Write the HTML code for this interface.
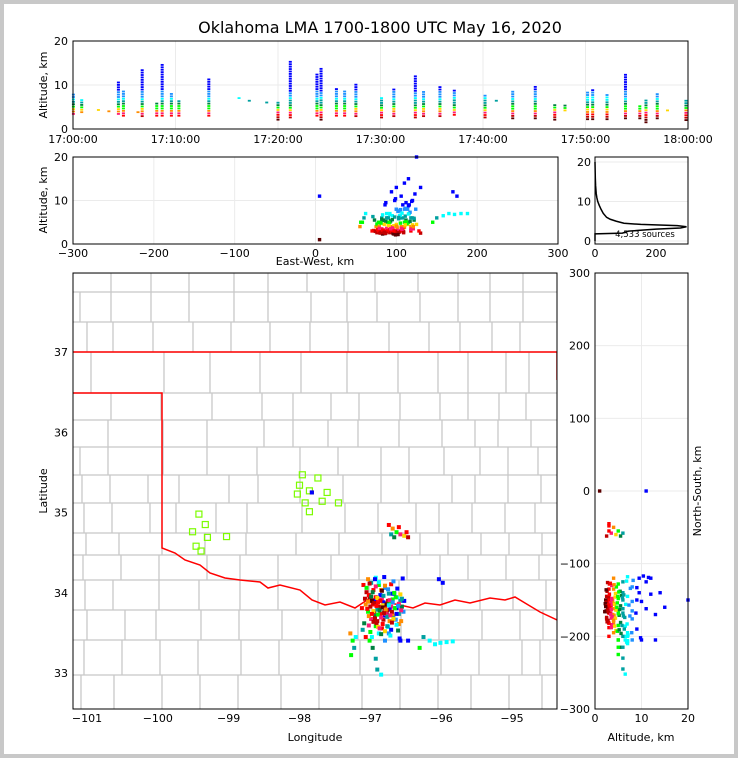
<!DOCTYPE html>
<html><head><meta charset="utf-8"><style>
body{margin:0;background:#c8c8c8;}
svg{display:block;font-family:"DejaVu Sans","Liberation Sans",sans-serif;}
</style></head><body>
<svg id="fig" width="738" height="758" viewBox="0 0 738 758" xmlns="http://www.w3.org/2000/svg">
<rect x="4" y="4" width="730" height="750" fill="#fff"/>
<text x="380" y="33" font-size="16" text-anchor="middle">Oklahoma LMA 1700-1800 UTC May 16, 2020</text>
<g id="top"></g>
<g id="mid"></g>
<g id="hist"></g>
<g id="map"></g>
<g id="ns"></g>
</svg>
<script>
// ---- data ----
const colMinutes=[0.04,0.85,2.48,3.5,4.43,4.92,6.34,6.75,8.17,8.7,9.6,10.33,13.25,16.2,17.2,18.9,20.0,21.2,23.8,24.2,25.7,26.5,27.6,30.1,31.3,33.4,34.2,35.8,37.2,40.2,41.3,42.9,45.1,47.0,48.0,50.2,50.7,52.1,53.9,55.3,55.9,57.0,58.0,59.8];
const colAltLo=[3.4,3.8,4.3,4.0,3.4,3.0,3.8,2.9,3.0,3.0,3.0,3.0,3.0,7.0,6.4,6.0,2.1,2.6,3.0,2.1,3.0,3.0,2.9,2.6,2.9,2.6,2.9,2.9,3.2,2.6,6.4,2.4,2.4,2.1,4.2,2.2,2.2,2.2,2.4,2.4,1.5,2.4,4.2,2.0];
const colAltHi=[7.9,6.8,4.3,4.0,10.9,9.0,3.8,13.7,5.9,15.0,8.3,6.8,11.7,7.4,6.4,6.0,6.2,15.5,12.8,14.0,9.5,8.9,10.4,7.1,9.0,12.3,8.5,9.6,8.9,7.6,6.4,8.8,9.6,5.9,5.8,8.5,8.9,7.9,12.6,5.3,6.9,7.9,4.2,6.9];
// sources: east-west km, north-south km, altitude km
const srcEW=[78,82,88,92,85,95,100,105,80,88,96,104,110,116,120,75,84,92,100,108,114,122,78,86,94,102,110,118,82,90,98,106,114,88,96,104,92,100,86,98,106,112,94,90,102,76,70,124,118,108,80,84,88,90,95,75,100,120,130,105,110,115,120,125,130,108,118,112,128,55,58,60,56,62,150,158,165,172,180,188,145,170,175,5,5,125,110,100,115,83,91,97,103,87,93,99,105,79,111,89,101,
72,76,80,84,88,92,96,100,104,108,112,116,120,
74,78,82,86,90,94,98,102,106,110,114,118,122,
77,81,85,89,93,97,101,105,109,113,117,121,
79,83,87,91,95,99,103,107,111,115,
73,79,85,91,97,103,109,115,121,
71,81,93,105,117,
87,99,111,123,
83,95,107,119];
const srcNS=[-120,-125,-118,-128,-135,-135,-132,-140,-145,-145,-148,-150,-148,-145,-150,-155,-155,-158,-160,-158,-160,-158,-165,-165,-168,-166,-170,-168,-175,-178,-176,-178,-176,-185,-188,-186,-195,-192,-150,-152,-162,-140,-142,-162,-172,-138,-160,-165,-182,-190,-205,-215,-230,-245,-252,-200,-205,-205,-205,-45,-50,-55,-58,-60,-62,-58,-48,-62,-55,-195,-205,-215,-225,-200,-200,-205,-210,-208,-207,-206,-215,-120,-125,0,0,-150,-140,-170,-160,-150,-152,-156,-163,-171,-148,-166,-154,-142,-174,-181,-168,
-128,-132,-126,-138,-130,-124,-136,-129,-134,-127,-139,-133,-141,
-147,-151,-144,-153,-146,-150,-143,-155,-149,-152,-145,-154,-147,
-161,-158,-164,-157,-163,-159,-162,-156,-165,-160,-157,-163,
-171,-168,-174,-169,-173,-167,-172,-170,-175,-168,
-181,-184,-179,-186,-182,-185,-180,-183,-178,
-190,-193,-188,-195,-191,
-120,-117,-123,-119,
-200,-196,-198,-202];
const srcAlt=[4,6,7,5,3,4,8,6,2.5,3,3.5,2.8,5,7,6,4,3.2,2.6,3,3.5,4.5,5.5,5,2.4,3,2.2,3.8,6,3.5,2.8,2.5,4,8,5,3,6.5,7,4.5,9,10,11,9.5,12,6,7.5,2.6,3,8,4,9,5,5.5,6,6,6.5,3,8,10,13,3,4,5,3.5,4.5,2.5,6,3,5.5,3,4,5,6,5,7,6,6.5,7,6.8,7,7,5,12,11,1,11,20,14,13,15,2.3,3.3,4.2,2.7,5.2,3.7,2.1,4.8,3.1,6.4,2.9,3.4,
3.1,4.6,2.7,5.4,3.6,6.8,2.4,4.1,7.6,3.3,5.1,9,4.4,
2.9,3.8,5.7,2.5,4.3,3.1,6.2,2.2,3.6,8,4.9,3.4,5.9,
3.3,2.6,4.5,3.0,5.3,2.3,3.9,6.6,2.8,4.7,7.3,3.5,
4.1,3.2,2.5,5.0,3.7,2.9,6.1,3.4,4.4,8.8,
5.5,3.6,2.7,4.2,3.0,5.8,2.6,6.9,4.0,
6.3,4.8,3.5,7.9,5.2,
9.5,10.4,8.2,11.5,
6.7,5.6,7.1,9.8];
const histAlt=[0,1.8,2,2.5,3,3.3,3.6,3.9,4.2,4.5,5,5.5,6,7,8,9,10,11,12,13,14,16,20];
const histCount=[0,0,90,110,200,280,300,270,150,95,70,50,38,27,20,14,9,6,4,3,2,1,0];
const timeTicks=["17:00:00","17:10:00","17:20:00","17:30:00","17:40:00","17:50:00","18:00:00"];
const lonTicks=[-101,-100,-99,-98,-97,-96,-95];
const latTicks=[37,36,35,34,33];
const stationLon=[-97.96,-97.74,-98.00,-97.86,-98.03,-97.61,-97.92,-97.68,-97.45,-97.86,-99.42,-99.33,-99.51,-99.30,-99.03,-99.46,-99.39];
const stationLat=[35.47,35.43,35.34,35.27,35.23,35.25,35.12,35.14,35.12,35.01,34.98,34.85,34.76,34.69,34.70,34.58,34.52];

// ---- helpers ----
const NS_='http://www.w3.org/2000/svg';
function mk(parent,tag,attrs){const e=document.createElementNS(NS_,tag);for(const k in attrs)e.setAttribute(k,attrs[k]);parent.appendChild(e);return e;}
function txt(parent,x,y,s,size,anchor,name,rot){const t=mk(parent,'text',{x:x,y:y,'font-size':size,'text-anchor':anchor||'middle'});if(rot)t.setAttribute('transform','rotate(-90 '+x+' '+y+')');t.textContent=s;


return t;}
function altColor(a){if(a<2.5)return '#5a0000';if(a<3)return '#c00000';if(a<3.4)return '#ff0000';if(a<3.8)return '#ff1a75';if(a<4.2)return '#ff8c00';if(a<4.6)return '#ffd700';if(a<5.2)return '#00ff00';if(a<5.8)return '#008040';if(a<6.5)return '#00a0a0';if(a<7.2)return '#00ffff';if(a<8.5)return '#1e90ff';return '#0000ff';}
function lin(d0,d1,r0,r1){return v=>r0+(v-d0)/(d1-d0)*(r1-r0);}
const G='#ebebeb';

// ---- top panel ----
(function(){const g=document.getElementById('top');const X=lin(0,60,73,688),Y=lin(0,20,129,41);
[10,20,30,40,50].forEach(m=>{const l=mk(g,'line',{x1:X(m),x2:X(m),y1:41,y2:129,stroke:G});

});
const h=mk(g,'line',{x1:73,x2:688,y1:Y(10),y2:Y(10),stroke:G});


colMinutes.forEach((m,i)=>{for(let a=colAltLo[i];a<=colAltHi[i]+0.01;a+=0.55){const r=mk(g,'rect',{x:X(m)-1.5,y:Y(a)-1,width:3,height:1.8,fill:altColor(a)});

}});
const f=mk(g,'rect',{x:73,y:41,width:615,height:88,fill:'none',stroke:'#000'});


[0,10,20].forEach(v=>txt(g,68,Y(v)+4,String(v),11,'end','top-y-tick'));
timeTicks.forEach((s,i)=>txt(g,X(i*10),143,s,11,'middle','time-tick'));
txt(g,47,85,'Altitude, km',11,'middle','top-y-axis-title',true);})();

// ---- middle panel ----
(function(){const g=document.getElementById('mid');const X=lin(-300,300,73,558),Y=lin(0,20,244,157);
[-200,-100,0,100,200].forEach(v=>{const l=mk(g,'line',{x1:X(v),x2:X(v),y1:157,y2:244,stroke:G});

});
const h=mk(g,'line',{x1:73,x2:558,y1:Y(10),y2:Y(10),stroke:G});


srcEW.forEach((e,i)=>{const r=mk(g,'rect',{x:X(e)-1.7,y:Y(srcAlt[i])-1.7,width:3.4,height:3.4,fill:altColor(srcAlt[i])});

});
const f=mk(g,'rect',{x:73,y:157,width:485,height:87,fill:'none',stroke:'#000'});


[0,10,20].forEach(v=>txt(g,68,Y(v)+4,String(v),11,'end','mid-y-tick'));
[-300,-200,-100,0,100,200,300].forEach(v=>txt(g,X(v),257,String(v).replace('-','−'),11,'middle','ew-tick'));
txt(g,315,265,'East-West, km',11,'middle','ew-axis-title');
txt(g,47,200,'Altitude, km',11,'middle','mid-y-axis-title',true);})();

// ---- histogram ----
(function(){const g=document.getElementById('hist');const X=lin(0,200,595,656),Y=lin(0,20,241,162);
[0,10,20].forEach(v=>{const l=mk(g,'line',{x1:595,x2:688,y1:Y(v),y2:Y(v),stroke:G});

});
const p=mk(g,'polyline',{points:histAlt.map((a,i)=>X(histCount[i])+','+Y(a)).join(' '),fill:'none',stroke:'#000','stroke-width':1.5});


const f=mk(g,'rect',{x:595,y:157,width:93,height:87,fill:'none',stroke:'#000'});


[0,10,20].forEach(v=>txt(g,591,Y(v)+4,String(v),11,'end','hist-y-tick'));
[0,200].forEach(v=>txt(g,X(v),257,String(v),11,'middle','hist-x-tick'));
txt(g,645,237,'4,533 sources',8.5,'middle','source-count-label');})();

// ---- map ----
(function(){const g=document.getElementById('map');const X=lin(-101,-95,87,512),Y=lin(37,33,352,673);
const cl=mk(g,'clipPath',{id:'mapclip'});mk(cl,'rect',{x:73,y:273,width:484,height:436});
const cg=mk(g,'g',{'clip-path':'url(#mapclip)'});


const bands=[[273,292,[113,150,190,232,268,309,343,376,416,458,492,522]],[292,322,[80,113,150,190,232,268,313,346,378,418,458,492,522]],[322,352,[85,113,155,192,232,268,310,350,388,430,458,492,522]],[352,393,[92,162,210,262,300,348,396,438,470,505,530]],[393,420,[110,162,210,262,295,330,360,398,440,470,498,527]],[420,447,[110,162,208,262,293,330,357,400,440,475,500,530]],[447,475,[80,110,162,208,255,300,340,380,410,442,480,510,537]],[475,503,[80,110,150,178,230,256,300,345,380,410,450,475,510,540]],[503,533,[85,110,150,178,215,248,300,345,380,415,440,470,505,537]],[533,555,[85,120,160,205,248,295,340,380,420,450,480,510,540]],[555,580,[85,120,160,205,240,280,330,360,405,440,470,505,540]],[580,610,[85,115,158,200,238,278,320,368,400,440,480,515,545]],[610,640,[85,125,158,200,240,280,320,360,400,440,480,520,545]],[640,675,[85,120,160,200,240,280,320,360,400,440,480,520,540]],[675,709,[80,115,160,200,240,280,320,360,400,440,470,510,540]]];
let d='';bands.forEach((b,i)=>{d+='M73 '+b[0]+'H557';b[2].forEach((x,j)=>{const o=((i*7+j*3)%5)-2;d+='M'+(x+o)+' '+b[0]+'V'+b[1];});});
mk(cg,'path',{d:d,stroke:'#c8c8c8','stroke-width':1.3,fill:'none'});
const red='M73 393H162V548L175 553L185 560L200 565L210 573L225 578L240 580L260 582L268 588L280 585L300 590L312 600L325 605L340 602L355 608L370 598L385 602L400 605L413 608L425 603L440 605L455 600L470 603L490 598L505 600L515 597L525 603L540 612L557 620M73 352H557V380';
const rp=mk(cg,'path',{d:red,stroke:'#ff0000','stroke-width':1.5,fill:'none'});


stationLon.forEach((lo,i)=>{const s=mk(cg,'rect',{x:X(lo)-3,y:Y(stationLat[i])-3,width:6,height:6,fill:'none',stroke:'#7cfc00','stroke-width':1.2});

});
srcEW.forEach((e,i)=>{const lon=-97.88+e/92,lat=35.25+srcNS[i]/111;const r=mk(cg,'rect',{x:X(lon)-2,y:Y(lat)-2,width:4,height:4,fill:altColor(srcAlt[i])});

});
const f=mk(g,'rect',{x:73,y:273,width:484,height:436,fill:'none',stroke:'#000'});


lonTicks.forEach(v=>txt(g,X(v),722,String(v).replace('-','−'),11,'middle','longitude-tick'));
latTicks.forEach(v=>txt(g,68,Y(v)+4,String(v),11,'end','latitude-tick'));
txt(g,315,741,'Longitude',11,'middle','longitude-axis-title');
txt(g,47,491,'Latitude',11,'middle','latitude-axis-title',true);})();

// ---- north-south panel ----
(function(){const g=document.getElementById('ns');const X=lin(0,20,595,688),Y=lin(-300,300,709,273);
[-200,-100,0,100,200].forEach(v=>{const l=mk(g,'line',{x1:595,x2:688,y1:Y(v),y2:Y(v),stroke:G});

});
const v=mk(g,'line',{x1:X(10),x2:X(10),y1:273,y2:709,stroke:G});


srcNS.forEach((n,i)=>{const r=mk(g,'rect',{x:X(srcAlt[i])-1.7,y:Y(n)-1.7,width:3.4,height:3.4,fill:altColor(srcAlt[i])});

});
const f=mk(g,'rect',{x:595,y:273,width:93,height:436,fill:'none',stroke:'#000'});


[300,200,100,0,-100,-200,-300].forEach(t=>txt(g,590,Y(t)+4,String(t).replace('-','−'),11,'end','ns-tick'));
[0,10,20].forEach(t=>txt(g,X(t),722,String(t),11,'middle','ns-altitude-tick'));
txt(g,641,741,'Altitude, km',11,'middle','ns-x-axis-title');
txt(g,701,491,'North-South, km',11,'middle','ns-y-axis-title',true);})();
</script>
</body></html>
